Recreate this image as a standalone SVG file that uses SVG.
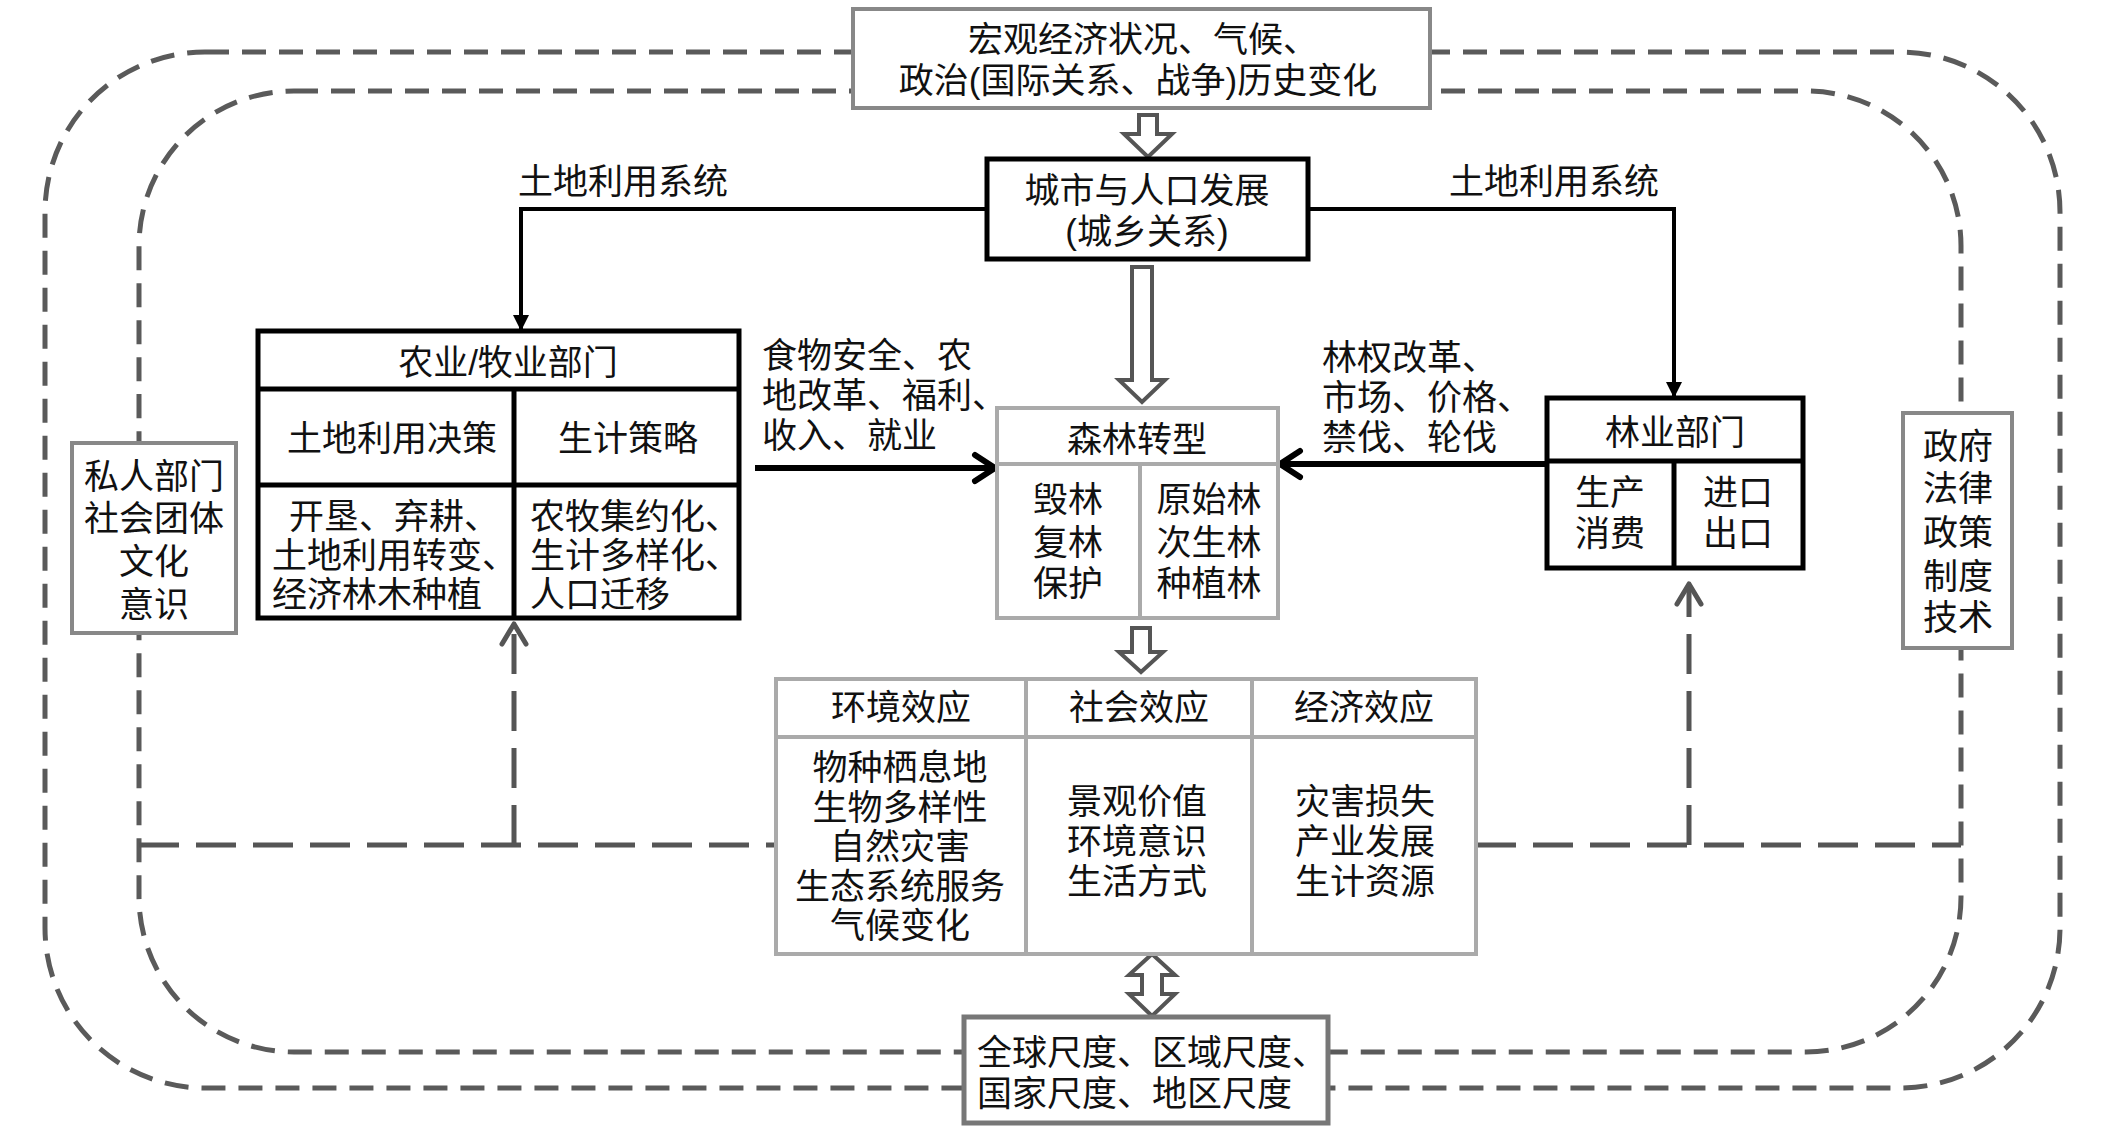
<svg xmlns="http://www.w3.org/2000/svg" width="2106" height="1146" viewBox="0 0 2106 1146">
<defs>
<style>
text{font-family:"Liberation Sans","Noto Sans CJK SC",sans-serif;fill:#111;dominant-baseline:central;font-size:35px}
.c{text-anchor:middle}
.s{text-anchor:start}
.dash{fill:none;stroke:#5a5a5a;stroke-width:5;stroke-dasharray:24 13}
.dash2{fill:none;stroke:#555;stroke-width:5;stroke-dasharray:40 17}
.bk{fill:#fff;stroke:#000;stroke-width:5}
.gy{fill:#fff;stroke:#888;stroke-width:4}
.lg{fill:#fff;stroke:#aaa;stroke-width:4}
.bl{stroke:#000;stroke-width:5;fill:none}
.ll{stroke:#aaa;stroke-width:4;fill:none}
.hol{fill:#fff;stroke:#555;stroke-width:4;stroke-linejoin:miter}
.con{fill:none;stroke:#000;stroke-width:4}
.thick{fill:none;stroke:#000;stroke-width:6}
</style>
<marker id="tri" viewBox="0 0 16 16" refX="16" refY="8" markerWidth="16" markerHeight="16" markerUnits="userSpaceOnUse" orient="auto">
<path d="M0,0 L16,8 L0,16 z" fill="#000"/>
</marker>
<marker id="chev" viewBox="-26 -18 30 36" refX="0" refY="0" markerWidth="30" markerHeight="36" markerUnits="userSpaceOnUse" orient="auto" overflow="visible">
<path d="M-20,-13 L0,0 L-20,13" fill="none" stroke="#000" stroke-width="6" stroke-linecap="round" stroke-linejoin="round"/>
</marker>
<marker id="gchev" viewBox="-26 -18 30 36" refX="0" refY="0" markerWidth="30" markerHeight="36" markerUnits="userSpaceOnUse" orient="auto" overflow="visible">
<path d="M-20,-12 L0,0 L-20,12" fill="none" stroke="#555" stroke-width="5" stroke-linecap="round" stroke-linejoin="round"/>
</marker>
</defs>
<rect width="2106" height="1146" fill="#fff"/>

<g id="connectors">
<rect class="dash" x="45" y="52" width="2015" height="1036" rx="160" ry="160"/>
<rect class="dash" x="139" y="91" width="1822" height="961" rx="155" ry="155"/>
<path class="dash2" d="M139,845 H776 M1476,845 H1961"/>
<path class="dash2" d="M514,845 V624" marker-end="url(#gchev)"/>
<path class="dash2" d="M1689,845 V584" marker-end="url(#gchev)"/>
<path class="con" d="M987,209 H521 V331" marker-end="url(#tri)"/>
<path class="con" d="M1308,209 H1674 V398" marker-end="url(#tri)"/>
<path class="thick" d="M755,468 H995" marker-end="url(#chev)"/>
<path class="thick" d="M1547,464 H1280" marker-end="url(#chev)"/>
<polygon class="hol" points="1139,115 1157,115 1157,134 1172,134 1148,157 1124,134 1139,134"/>
<polygon class="hol" points="1132,267 1152,267 1152,380 1165,380 1142,402 1119,380 1132,380"/>
<polygon class="hol" points="1132,628 1150,628 1150,652 1163,652 1141,672 1119,652 1132,652"/>
<polygon class="hol" points="1152,954 1175,975 1162,975 1162,994 1175,994 1152,1016 1129,994 1142,994 1142,975 1129,975"/>
</g>

<g id="macro">
<rect class="gy" x="853" y="9" width="577" height="99"/>
<text class="c" font-size="36"><tspan x="1143" y="39">宏观经济状况、气候、</tspan><tspan x="1138" y="80">政治(国际关系、战争)历史变化</tspan></text>
</g>

<g id="city">
<rect class="bk" x="987" y="159" width="321" height="100"/>
<text class="c" font-size="36"><tspan x="1147" y="190">城市与人口发展</tspan><tspan x="1147" y="231">(城乡关系)</tspan></text>
</g>

<g id="label-left">
<text class="s" x="518" y="181">土地利用系统</text>
</g>
<g id="label-right">
<text class="s" x="1449" y="181">土地利用系统</text>
</g>

<g id="agri">
<rect class="bk" x="258" y="331" width="481" height="287"/>
<path class="bl" d="M258,389 H739 M258,485 H739 M514,389 V618"/>
<text class="c" x="508" y="362">农业/牧业部门</text>
<text class="c" x="392" y="438">土地利用决策</text>
<text class="c" x="628" y="438">生计策略</text>
<text class="s" font-size="34"><tspan x="289" y="516">开垦、弃耕、</tspan><tspan x="272" y="555">土地利用转变、</tspan><tspan x="272" y="594">经济林木种植</tspan></text>
<text class="s" font-size="34"><tspan x="530" y="516">农牧集约化、</tspan><tspan x="530" y="555">生计多样化、</tspan><tspan x="530" y="594">人口迁移</tspan></text>
</g>

<g id="food-label">
<text class="s"><tspan x="762" y="355">食物安全、农</tspan><tspan x="762" y="395">地改革、福利、</tspan><tspan x="762" y="435">收入、就业</tspan></text>
</g>

<g id="forest-label">
<text class="s"><tspan x="1322" y="357">林权改革、</tspan><tspan x="1322" y="397">市场、价格、</tspan><tspan x="1322" y="437">禁伐、轮伐</tspan></text>
</g>

<g id="transition">
<rect class="lg" x="997" y="408" width="281" height="210"/>
<path class="ll" d="M997,464 H1278 M1140,464 V618"/>
<text class="c" x="1137" y="439">森林转型</text>
<text class="c"><tspan x="1068" y="499">毁林</tspan><tspan x="1068" y="542">复林</tspan><tspan x="1068" y="583">保护</tspan></text>
<text class="c"><tspan x="1209" y="499">原始林</tspan><tspan x="1209" y="542">次生林</tspan><tspan x="1209" y="583">种植林</tspan></text>
</g>

<g id="forestry">
<rect class="bk" x="1547" y="398" width="256" height="170"/>
<path class="bl" d="M1547,461 H1803 M1674,461 V568"/>
<text class="c" x="1675" y="432">林业部门</text>
<text class="c"><tspan x="1610" y="492">生产</tspan><tspan x="1610" y="533">消费</tspan></text>
<text class="c"><tspan x="1738" y="492">进口</tspan><tspan x="1738" y="533">出口</tspan></text>
</g>

<g id="private">
<rect class="gy" x="72" y="443" width="164" height="190"/>
<text class="c"><tspan x="154" y="476">私人部门</tspan><tspan x="154" y="518">社会团体</tspan><tspan x="154" y="561">文化</tspan><tspan x="154" y="604">意识</tspan></text>
</g>

<g id="government">
<rect class="gy" x="1903" y="413" width="109" height="235"/>
<text class="c"><tspan x="1958" y="446">政府</tspan><tspan x="1958" y="488">法律</tspan><tspan x="1958" y="532">政策</tspan><tspan x="1958" y="576">制度</tspan><tspan x="1958" y="617">技术</tspan></text>
</g>

<g id="effects">
<rect class="lg" x="776" y="679" width="700" height="275"/>
<path class="ll" d="M776,737 H1476 M1026,679 V954 M1252,679 V954"/>
<text class="c" x="901" y="707">环境效应</text>
<text class="c" x="1139" y="707">社会效应</text>
<text class="c" x="1364" y="707">经济效应</text>
<text class="c"><tspan x="900" y="767">物种栖息地</tspan><tspan x="900" y="806.5">生物多样性</tspan><tspan x="900" y="846">自然灾害</tspan><tspan x="900" y="885.5">生态系统服务</tspan><tspan x="900" y="925">气候变化</tspan></text>
<text class="c"><tspan x="1137" y="801">景观价值</tspan><tspan x="1137" y="841">环境意识</tspan><tspan x="1137" y="881">生活方式</tspan></text>
<text class="c"><tspan x="1365" y="801">灾害损失</tspan><tspan x="1365" y="841">产业发展</tspan><tspan x="1365" y="881">生计资源</tspan></text>
</g>

<g id="scale">
<rect x="964" y="1017" width="364" height="106" fill="#fff" stroke="#777" stroke-width="5"/>
<text class="s" font-size="36"><tspan x="977" y="1052">全球尺度、区域尺度、</tspan><tspan x="977" y="1093">国家尺度、地区尺度</tspan></text>
</g>
</svg>
